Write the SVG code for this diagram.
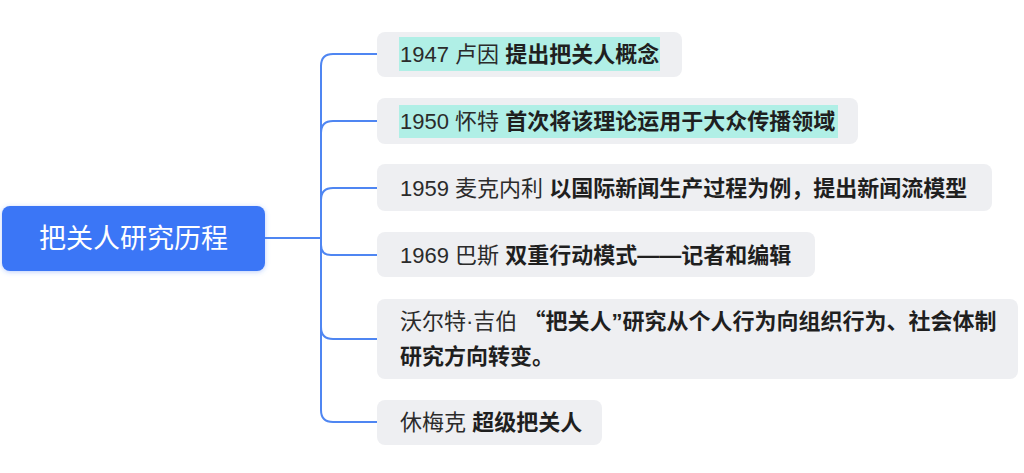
<svg xmlns="http://www.w3.org/2000/svg" width="1024" height="473" viewBox="0 0 1024 473">
  <defs>
    <filter id="glow" x="-20%" y="-40%" width="140%" height="180%">
      <feDropShadow dx="0" dy="1" stdDeviation="2.5" flood-color="#3b76f6" flood-opacity="0.35"/>
    </filter>
    <style>
      .conn { fill: none; stroke: #4f86f2; stroke-width: 2; }
      .box { fill: #eeeff2; }
      .hl { fill: #b0efe6; }
      .t { font-family: "Liberation Sans", "Noto Sans CJK SC", sans-serif; font-size: 22px; fill: #2b2b2b; }
      .b { font-weight: 700; fill: #1f1f1f; }
      .cjk { font-family: "Noto Sans CJK SC", sans-serif; }
      .root-t { font-family: "Noto Sans CJK SC", sans-serif; font-size: 27px; fill: #ffffff; }
    </style>
  </defs>
  <rect width="1024" height="473" fill="#ffffff"/>

  <g id="connectors">
    <path class="conn" d="M265 238 H321"/>
    <path class="conn" d="M321 238 V66 Q321 54 333 54 H377"/>
    <path class="conn" d="M321 238 V133 Q321 121 333 121 H377"/>
    <path class="conn" d="M321 238 V200 Q321 188 333 188 H377"/>
    <path class="conn" d="M321 238 V245 Q321 255 331 255 H377"/>
    <path class="conn" d="M321 238 V327 Q321 339 333 339 H377"/>
    <path class="conn" d="M321 238 V410 Q321 422 333 422 H377"/>
  </g>

  <g id="root">
    <rect x="2" y="206" width="263" height="65" rx="8" fill="#3b76f6" filter="url(#glow)"/>
    <text class="root-t" x="133.5" y="248" text-anchor="middle">把关人研究历程</text>
  </g>

  <g id="n1">
    <rect class="box" x="377" y="32" width="305" height="45" rx="8"/>
    <rect class="hl" x="399" y="37" width="261" height="34"/>
    <text class="t" x="400" y="62">1947 卢因 <tspan class="b">提出把关人概念</tspan></text>
  </g>

  <g id="n2">
    <rect class="box" x="377" y="98" width="481" height="46" rx="8"/>
    <rect class="hl" x="399" y="105" width="439" height="33"/>
    <text class="t" x="400" y="129">1950 怀特 <tspan class="b">首次将该理论运用于大众传播领域</tspan></text>
  </g>

  <g id="n3">
    <rect class="box" x="377" y="164" width="615" height="47" rx="8"/>
    <text class="t" x="400" y="196">1959 麦克内利 <tspan class="b">以国际新闻生产过程为例，提出新闻流模型</tspan></text>
  </g>

  <g id="n4">
    <rect class="box" x="377" y="232" width="438" height="45" rx="8"/>
    <text class="t" x="400" y="263">1969 巴斯 <tspan class="b">双重行动模式——记者和编辑</tspan></text>
  </g>

  <g id="n5">
    <rect class="box" x="377" y="299" width="641" height="80" rx="8"/>
    <text class="t" x="400" y="329">沃尔特·吉伯 <tspan class="b cjk">“</tspan><tspan class="b">把关人”研究从个人行为向组织行为、社会体制</tspan></text>
    <text class="t b" x="400" y="364">研究方向转变。</text>
  </g>

  <g id="n6">
    <rect class="box" x="377" y="400" width="225" height="45" rx="8"/>
    <text class="t" x="400" y="430">休梅克 <tspan class="b">超级把关人</tspan></text>
  </g>
</svg>
